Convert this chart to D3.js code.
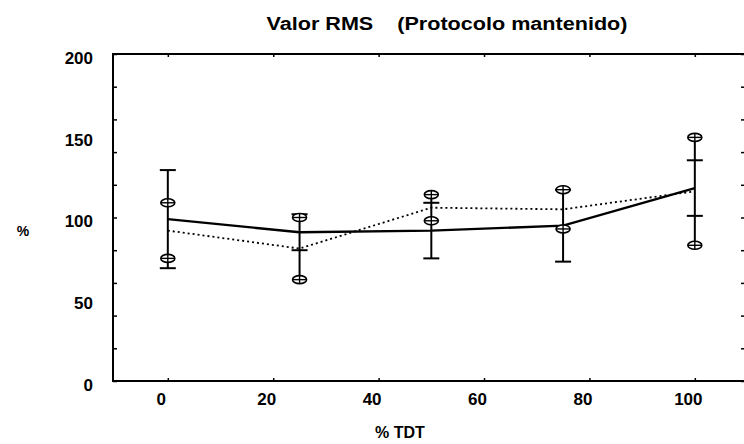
<!DOCTYPE html>
<html>
<head>
<meta charset="utf-8">
<script src="https://cdn.jsdelivr.net/npm/d3@7"></script>
<style>
  body { margin: 0; background: #fff; }
  svg text { font-family: "Liberation Sans", Arial, sans-serif; font-weight: bold; fill: #000; }
</style>
</head>
<body>
<div class="chart"></div>
<script>
// data
const pctTDT = [0, 25, 50, 75, 100];
const solidMean = [99, 91, 92, 95, 118];
const solidErr = [30, 11, 17, 22, 17];
const dottedMean = [92, 81, 106, 105, 116];
const dottedErr = [17, 19, 8, 12, 33];
const xTicks = [0, 20, 40, 60, 80, 100];
const yLabels = [0, 50, 100, 150, 200];
const yMinorTicks = d3.range(0, 201, 20);

const w = 744, h = 444;
const padLeft = 113, padRight = 747, padTop = 54, padBottom = 381;

var svg = d3.select(".chart").append("svg")
    .attr("width", w)
    .attr("height", h);

var xScale = d3.scaleLinear().domain([-10.4, 109.9]).range([padLeft, padRight]);
var yScale = d3.scaleLinear().domain([0, 200]).range([padBottom, padTop]);

// frame (right edge sits just past the picture)
svg.append("rect")
    .attr("x", padLeft).attr("y", padTop)
    .attr("width", padRight - padLeft).attr("height", padBottom - padTop)
    .attr("fill", "none").attr("stroke", "#000").attr("stroke-width", 2);

// inner ticks on all four sides
svg.append("g").attr("transform", `translate(${padLeft},0)`)
    .call(d3.axisRight(yScale).tickValues(yMinorTicks).tickSize(4).tickFormat(""))
    .call(g => g.select(".domain").remove());
svg.append("g").attr("transform", `translate(${padRight},0)`)
    .call(d3.axisLeft(yScale).tickValues(yMinorTicks).tickSize(6).tickFormat(""))
    .call(g => g.select(".domain").remove());
svg.append("g").attr("transform", `translate(0,${padBottom})`)
    .call(d3.axisTop(xScale).tickValues(xTicks).tickSize(3).tickFormat(""))
    .call(g => g.select(".domain").remove());
svg.append("g").attr("transform", `translate(0,${padTop})`)
    .call(d3.axisBottom(xScale).tickValues(xTicks).tickSize(3).tickFormat(""))
    .call(g => g.select(".domain").remove());
svg.selectAll(".tick line").attr("stroke-width", 1.5);

// tick labels
svg.append("g").attr("transform", `translate(${padLeft},0)`)
    .call(d3.axisLeft(yScale).tickValues(yLabels).tickSize(0).tickPadding(20))
    .call(g => g.select(".domain").remove())
    .selectAll("text")
    .attr("dy", "0.55em")
    .attr("font-size", 17)
    .attr("font-family", "'Liberation Sans', Arial, sans-serif")
    .attr("font-weight", "bold");

svg.append("g").attr("transform", `translate(0,${padBottom})`)
    .call(d3.axisBottom(xScale).tickValues(xTicks).tickSize(0).tickPadding(12))
    .call(g => g.select(".domain").remove())
    .selectAll("text")
    .attr("dx", -7)
    .attr("font-size", 17)
    .attr("font-family", "'Liberation Sans', Arial, sans-serif")
    .attr("font-weight", "bold");

// titles
svg.append("text")
    .attr("x", 447).attr("y", 30)
    .attr("text-anchor", "middle")
    .attr("font-size", 18)
    .attr("textLength", 361)
    .attr("lengthAdjust", "spacingAndGlyphs")
    .attr("xml:space", "preserve")
    .text("Valor RMS    (Protocolo mantenido)");

svg.append("text")
    .attr("x", 400).attr("y", 438)
    .attr("text-anchor", "middle")
    .attr("font-size", 16)
    .text("% TDT");

svg.append("text")
    .attr("x", 23).attr("y", 236)
    .attr("text-anchor", "middle")
    .attr("font-size", 14)
    .text("%");

// series lines
var line = d3.line().x((d, i) => xScale(pctTDT[i])).y(d => yScale(d));

svg.append("path")
    .datum(dottedMean)
    .attr("d", line)
    .attr("fill", "none")
    .attr("stroke", "#000")
    .attr("stroke-width", 1.8)
    .attr("stroke-dasharray", "2,3");

svg.append("path")
    .datum(solidMean)
    .attr("d", line)
    .attr("fill", "none")
    .attr("stroke", "#000")
    .attr("stroke-width", 2.4);

// error bars: solid series with flat caps, dotted series with oval caps
for (let i = 0; i < pctTDT.length; i++) {
    var cx = xScale(pctTDT[i]);
    var lo = Math.min(solidMean[i] - solidErr[i], dottedMean[i] - dottedErr[i]);
    var hi = Math.max(solidMean[i] + solidErr[i], dottedMean[i] + dottedErr[i]);
    svg.append("line")
        .attr("x1", cx).attr("x2", cx)
        .attr("y1", yScale(lo)).attr("y2", yScale(hi))
        .attr("stroke", "#000").attr("stroke-width", 2);

    [solidMean[i] - solidErr[i], solidMean[i] + solidErr[i]].forEach(v => {
        svg.append("line")
            .attr("x1", cx - 8).attr("x2", cx + 8)
            .attr("y1", yScale(v)).attr("y2", yScale(v))
            .attr("stroke", "#000").attr("stroke-width", 2);
    });

    [dottedMean[i] - dottedErr[i], dottedMean[i] + dottedErr[i]].forEach(v => {
        svg.append("ellipse")
            .attr("cx", cx).attr("cy", yScale(v))
            .attr("rx", 7).attr("ry", 4)
            .attr("fill", "#fff").attr("stroke", "#000").attr("stroke-width", 1.6);
        svg.append("line")
            .attr("x1", cx - 7).attr("x2", cx + 7)
            .attr("y1", yScale(v)).attr("y2", yScale(v))
            .attr("stroke", "#000").attr("stroke-width", 1.4);
        svg.append("line")
            .attr("x1", cx).attr("x2", cx)
            .attr("y1", yScale(v) - 4).attr("y2", yScale(v) + 4)
            .attr("stroke", "#000").attr("stroke-width", 1.4);
    });
}
</script>
</body>
</html>
